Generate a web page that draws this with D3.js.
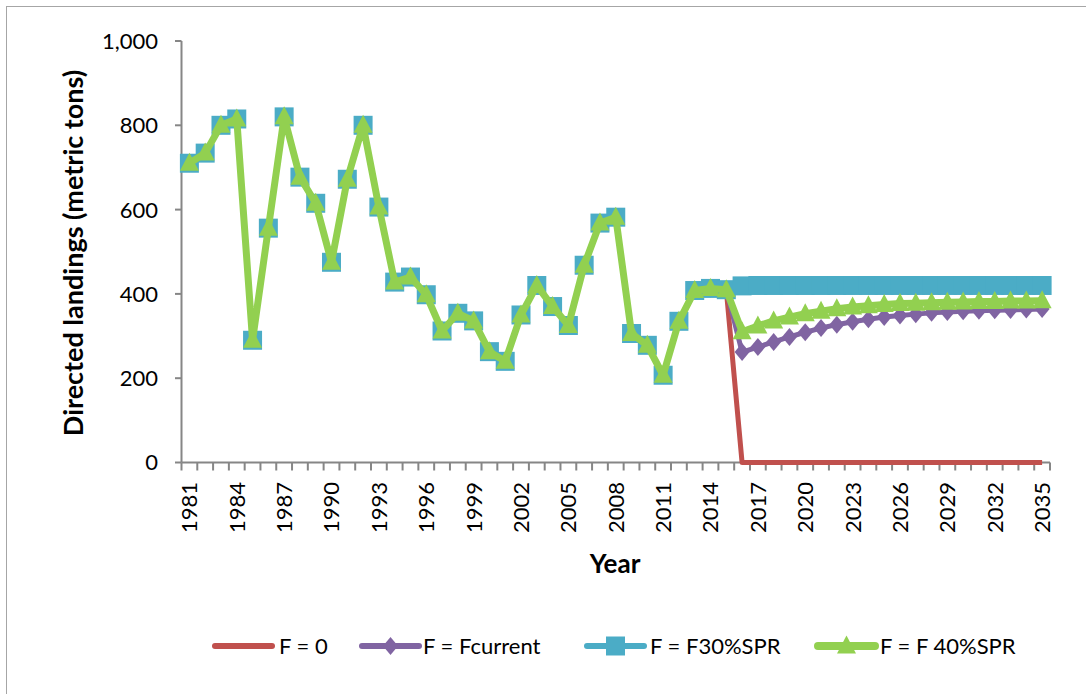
<!DOCTYPE html>
<html>
<head>
<meta charset="utf-8">
<script src="https://cdn.jsdelivr.net/npm/d3@7"></script>
<style>
  body { margin: 0; background: #fff; }
  text { font-family: Lato, "Liberation Sans", sans-serif; fill: #000; }
</style>
</head>
<body>
<svg id="chart" width="1086" height="694"></svg>
<script>
// years shown on the category axis
const years = d3.range(1981, 2036);

// observed landings 1981-2015 (shared by all runs)
const history = [
  710, 734, 800, 815, 290, 556, 820, 677, 615, 475,
  672, 800, 606, 428, 440, 398, 312, 354, 336, 263,
  240, 350, 420, 370, 325, 468, 568, 582, 306, 278,
  207, 335, 408, 413, 410
];

// projections 2016-2035
const projF0 = [0, 0, 0, 0, 0, 0, 0, 0, 0, 0, 0, 0, 0, 0, 0, 0, 0, 0, 0, 0];
const projFcurrent = [262, 274, 286, 298, 309, 319, 327, 334, 340, 345, 349, 352, 355, 357, 359, 360, 361, 362, 363, 364];
const projF30 = [419, 420, 420, 420, 420, 420, 420, 420, 420, 420, 420, 420, 420, 420, 420, 420, 420, 420, 420, 420];
const projF40 = [310, 324, 336, 345, 353, 359, 365, 369, 372, 375, 377, 378, 379, 380, 381, 382, 382, 383, 383, 384];

const seriesNames = ["F = 0", "F = Fcurrent", "F = F30%SPR", "F = F 40%SPR"];
const yTicks = [0, 200, 400, 600, 800, 1000];

const series = [
  { name: seriesNames[0], values: history.concat(projF0), color: "#C0504D", width: 5, marker: null },
  { name: seriesNames[1], values: history.concat(projFcurrent), color: "#8064A2", width: 5, marker: "diamond" },
  { name: seriesNames[2], values: history.concat(projF30), color: "#4BACC6", width: 5, marker: "square" },
  { name: seriesNames[3], values: history.concat(projF40), color: "#92D050", width: 7, marker: "triangle" }
];

const svg = d3.select("#chart");

// outer chart border (only top/left visible)
svg.append("rect")
  .attr("x", 6.5).attr("y", 6.5)
  .attr("width", 1100).attr("height", 700)
  .attr("fill", "none")
  .attr("stroke", "#a6a6a6")
  .attr("stroke-width", 1);

const x = d3.scaleBand().domain(years).range([181.5, 1050]);
const y = d3.scaleLinear().domain([0, 1000]).range([462.5, 41]);

const axisColor = "#868686";

// y axis
const yAxis = svg.append("g");
yAxis.append("line")
  .attr("x1", 181.5).attr("x2", 181.5)
  .attr("y1", y(1000)).attr("y2", y(0))
  .attr("stroke", axisColor).attr("stroke-width", 2);
yAxis.selectAll("line.tick").data(yTicks).join("line")
  .attr("class", "tick")
  .attr("x1", 175).attr("x2", 181.5)
  .attr("y1", d => y(d)).attr("y2", d => y(d))
  .attr("stroke", axisColor).attr("stroke-width", 2);
yAxis.selectAll("text").data(yTicks).join("text")
  .attr("x", 158)
  .attr("y", d => y(d))
  .attr("dy", "0.36em")
  .attr("text-anchor", "end")
  .attr("font-size", 22)
  .text(d3.format(","));

// x axis
const xAxis = svg.append("g");
xAxis.append("line")
  .attr("x1", 181.5).attr("x2", 1050)
  .attr("y1", y(0)).attr("y2", y(0))
  .attr("stroke", axisColor).attr("stroke-width", 2);
const edges = years.map(d => x(d)).concat([x.range()[1]]);
xAxis.selectAll("line.tick").data(edges).join("line")
  .attr("class", "tick")
  .attr("x1", d => d).attr("x2", d => d)
  .attr("y1", y(0)).attr("y2", y(0) + 8)
  .attr("stroke", axisColor).attr("stroke-width", 2);
xAxis.selectAll("text").data(years.filter((d, i) => i % 3 === 0)).join("text")
  .attr("transform", d => `translate(${x(d) + x.bandwidth() / 2},482) rotate(-90)`)
  .attr("dy", "0.36em")
  .attr("text-anchor", "end")
  .attr("font-size", 22)
  .text(d => d);

// axis titles
svg.append("text")
  .attr("transform", "translate(73,253) rotate(-90)")
  .attr("dy", "0.36em")
  .attr("text-anchor", "middle")
  .attr("font-size", 27)
  .attr("font-weight", 700)
  .text("Directed landings (metric tons)");

svg.append("text")
  .attr("x", 615).attr("y", 573)
  .attr("text-anchor", "middle")
  .attr("font-size", 26)
  .attr("font-weight", 700)
  .text("Year");

// marker shapes
function markerPath(type) {
  if (type === "diamond") return "M0,-9L7.5,0L0,9L-7.5,0Z";
  if (type === "square") return "M-9.5,-9.5H9.5V9.5H-9.5Z";
  if (type === "triangle") return "M0,-10.5L9.5,7.5H-9.5Z";
  return null;
}

const line = d3.line()
  .x((d, i) => x(years[i]) + x.bandwidth() / 2)
  .y(d => y(d));

const plot = svg.append("g");
series.forEach(s => {
  const g = plot.append("g");
  g.append("path")
    .attr("d", line(s.values))
    .attr("fill", "none")
    .attr("stroke", s.color)
    .attr("stroke-width", s.width)
    .attr("stroke-linejoin", "round");
  if (s.marker) {
    g.selectAll("path.marker").data(s.values).join("path")
      .attr("class", "marker")
      .attr("transform", (d, i) => `translate(${x(years[i]) + x.bandwidth() / 2},${y(d)})`)
      .attr("d", markerPath(s.marker))
      .attr("fill", s.color);
  }
});

// legend
const legendItems = [
  { s: series[0], x0: 215, tx: 279 },
  { s: series[1], x0: 362, tx: 423 },
  { s: series[2], x0: 587, tx: 650 },
  { s: series[3], x0: 818, tx: 880 }
];
const legendY = 646;
const legend = svg.append("g");
legendItems.forEach(it => {
  legend.append("line")
    .attr("x1", it.x0).attr("x2", it.x0 + 57)
    .attr("y1", legendY).attr("y2", legendY)
    .attr("stroke", it.s.color)
    .attr("stroke-width", it.s.width + 1)
    .attr("stroke-linecap", "round");
  if (it.s.marker) {
    legend.append("path")
      .attr("transform", `translate(${it.x0 + 28.5},${legendY})`)
      .attr("d", markerPath(it.s.marker))
      .attr("fill", it.s.color);
  }
  legend.append("text")
    .attr("x", it.tx).attr("y", legendY)
    .attr("dy", "0.36em")
    .attr("font-size", 22)
    .text(it.s.name);
});
</script>
</body>
</html>
